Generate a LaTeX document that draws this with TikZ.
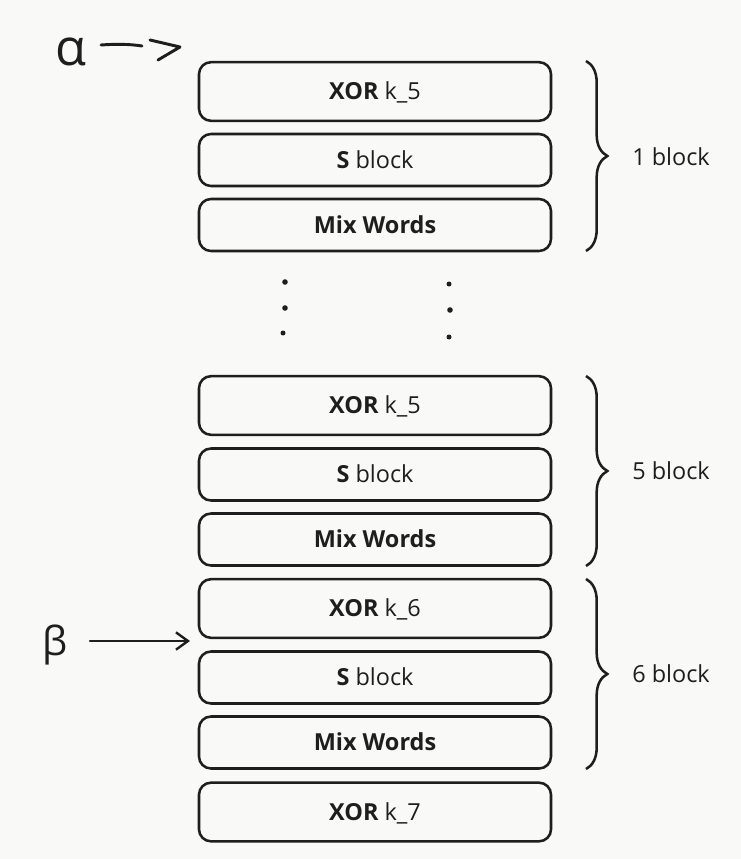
\documentclass[tikz,border=0pt]{standalone}
\usepackage{fontspec}
\setmainfont{Open Sans}
\usetikzlibrary{arrows.meta,decorations.pathreplacing}
\definecolor{ink}{RGB}{30,30,30}
\definecolor{paper}{RGB}{249,249,247}
\tikzset{
  rbox/.style={draw=ink, line width=1.9pt, rounded corners=9pt, minimum width=264pt, inner sep=0pt, text=ink, text height=12.6pt, text depth=0pt, font=\fontsize{17.6}{20}\selectfont},
  xorbox/.style={rbox, minimum height=44pt},
  opbox/.style={rbox, minimum height=39pt},
  grpbrace/.style={draw=ink, line width=1.9pt, decorate, decoration={brace, amplitude=16pt}},
  grplabel/.style={anchor=west, inner sep=0pt, text=ink, font=\fontsize{17.6}{20}\selectfont},
  hand/.style={draw=ink, line width=2.2pt, line cap=round, line join=round},
  dotmark/.style={fill=ink}
}

\begin{document}
\begin{tikzpicture}[x=0.75pt,y=0.75pt,yscale=-1,xscale=1]
\fill[paper] (0,0) rectangle (741,859);
\useasboundingbox (0,0) rectangle (741,859);
%Rounded Rect: first group
\node[xorbox] (xor1) at (375,91.5) {\textbf{XOR} k\_5};
\node[opbox] (sb1) at (375,160) {\textbf{S} block};
\node[opbox] (mix1) at (375,225) {\textbf{Mix Words}};
%Rounded Rect: fifth group
\node[xorbox] (xor2) at (375,405.5) {\textbf{XOR} k\_5};
\node[opbox] (sb2) at (375,474.5) {\textbf{S} block};
\node[opbox] (mix2) at (375,539.5) {\textbf{Mix Words}};
%Rounded Rect: sixth group
\node[xorbox] (xor3) at (375,608.5) {\textbf{XOR} k\_6};
\node[opbox] (sb3) at (375,677.5) {\textbf{S} block};
\node[opbox] (mix3) at (375,742.5) {\textbf{Mix Words}};
%Rounded Rect: last key
\node[xorbox] (xor4) at (375,812) {\textbf{XOR} k\_7};
%Braces
\draw[grpbrace] (586,61) -- (586,251);
\node[grplabel] (lab1) at (632,157) {1 block};
\draw[grpbrace] (586,376) -- (586,566);
\node[grplabel] (lab2) at (632,471) {5 block};
\draw[grpbrace] (586,579) -- (586,769);
\node[grplabel] (lab3) at (632,674) {6 block};
%Dots
\fill[dotmark] (285,282) circle (2.8) (285,308) circle (2.8) (283,333) circle (2.5);
\fill[dotmark] (449,284) circle (2.5) (450,310) circle (2.8) (449,337) circle (2.5);
%alpha pointer
\node[text=ink, font=\fontsize{38}{40}\selectfont, inner sep=0pt] (alpha) at (71,52) {α};
\draw[hand] (101,45) .. controls (115,44) and (130,44) .. (142,46);
\draw[hand] (150,40) -- (180,47) -- (158,60);
%beta pointer
\node[text=ink, font=\fontsize{30}{32}\selectfont, inner sep=0pt] (beta) at (55,645) {β};
\coordinate (bhead) at (190,641);
\draw[hand, line width=1.8pt, -{Straight Barb[length=9pt, width=13pt, line width=1.8pt]}] (90,641) -- (bhead);
\end{tikzpicture}
\end{document}
